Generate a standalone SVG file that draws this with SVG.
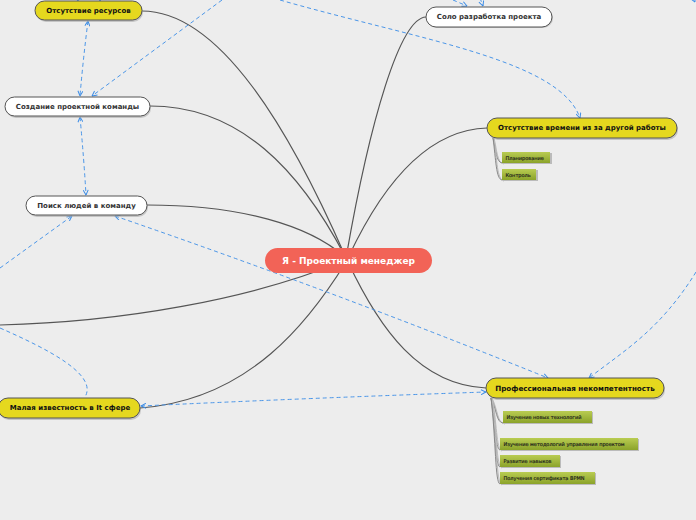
<svg xmlns="http://www.w3.org/2000/svg" width="696" height="520" viewBox="0 0 696 520">
<defs>
<linearGradient id="gr" x1="0" y1="0" x2="0" y2="1"><stop offset="0" stop-color="#b9cc52"/><stop offset="1" stop-color="#8ba32a"/></linearGradient>
<marker id="ar" viewBox="0 0 6 6" refX="5.5" refY="3" markerWidth="6" markerHeight="6" markerUnits="userSpaceOnUse" orient="auto-start-reverse"><path d="M0.5,0.5 L5.5,3 L0.5,5.5" fill="none" stroke="#3d8de6" stroke-width="1"/></marker>
</defs>
<style>
.bg{fill:#ededed}
.sol{fill:none;stroke:#555;stroke-width:1.2}
.sub{fill:none;stroke:#888;stroke-width:1}
.subl{fill:none;stroke:#bbb;stroke-width:1}
.dash{fill:none;stroke:#4b96e8;stroke-width:1;stroke-dasharray:4 3}
.y{fill:#e5d81e;stroke:#555;stroke-width:1}
.w{fill:#fff;stroke:#555;stroke-width:1}
.sh{fill:#aaa;opacity:.6}
.g{fill:url(#gr)}
.gs{fill:#bbb}
.t{font-family:"DejaVu Sans",Verdana,sans-serif;font-weight:bold;font-size:7px;text-anchor:middle;dominant-baseline:central}
.tb{fill:#111}
.tw{fill:#333}
.ts{font-family:"DejaVu Sans",Verdana,sans-serif;font-size:5px;fill:#1a1a1a;stroke:#1a1a1a;stroke-width:0.15;dominant-baseline:central}
</style>
<rect class="bg" width="696" height="520"/>
<g id="connectors">
<path class="sol" d="M142,11 C220,11 290,130 346,258"/>
<path class="sol" d="M150,106 C240,106 300,170 346,258"/>
<path class="sol" d="M147,205 C240,205 310,225 346,258"/>
<path class="sol" d="M0,325 C120,322 250,300 346,260"/>
<path class="sol" d="M140,408 C250,400 310,320 346,262"/>
<path class="sol" d="M426,17 C400,18 370,120 346,258"/>
<path class="sol" d="M487,128 C420,130 375,200 348,258"/>
<path class="sol" d="M486,388 C420,385 380,330 348,262"/>
<path class="subl" d="M494,138 C497,150 497,163 504,164"/>
<path class="sub" d="M493,138 C496,150 496,162 502,163"/>
<path class="subl" d="M494,138 C497,160 497,180 504,181"/>
<path class="sub" d="M493,138 C496,160 496,179 502,180"/>
<path class="subl" d="M492,398 C498,410 497,423 505,424"/>
<path class="sub" d="M491,398 C497,410 496,422 503,423"/>
<path class="subl" d="M492,398 C497,420 496,450 502,451"/>
<path class="sub" d="M491,398 C496,420 495,449 500,450"/>
<path class="subl" d="M492,398 C497,430 496,467 502,468"/>
<path class="sub" d="M491,398 C496,430 495,466 500,467"/>
<path class="subl" d="M492,398 C497,440 496,484 502,485"/>
<path class="sub" d="M491,398 C496,440 495,483 500,484"/>
<path class="dash" d="M88,21 Q83,60 80,96" marker-start="url(#ar)" marker-end="url(#ar)"/>
<path class="dash" d="M222,0 L92,96" marker-end="url(#ar)"/>
<path class="dash" d="M80,117 Q84,160 86,195" marker-start="url(#ar)" marker-end="url(#ar)"/>
<path class="dash" d="M0,268 L72,216" marker-end="url(#ar)"/>
<path class="dash" d="M115,216 Q330,290 548,378" marker-start="url(#ar)" marker-end="url(#ar)"/>
<path class="dash" d="M0,328 C50,350 98,375 85,397"/>
<path class="dash" d="M141,406 Q310,398 486,392" marker-start="url(#ar)" marker-end="url(#ar)"/>
<path class="dash" d="M280,0 C420,40 560,60 580,118" marker-end="url(#ar)"/>
<path class="dash" d="M453,0 L467,6" marker-end="url(#ar)"/>
<path class="dash" d="M480,-2 L483,6" marker-end="url(#ar)"/>
<path class="dash" d="M696,272 C660,330 625,350 589,378" marker-end="url(#ar)"/>
<path class="dash" d="M692,-4 L695,2" marker-end="url(#ar)"/>
<path class="dash" d="M77,-6 L78,1" marker-end="url(#ar)"/>
<path class="dash" d="M100,-6 L100,1" marker-end="url(#ar)"/>
</g>
<g id="center">
<rect x="265" y="248" width="167" height="25" rx="12.5" fill="#f26357"/>
<text x="348.5" y="261" class="t" style="font-size:9px;fill:#fff">Я - Проектный менеджер</text>
</g>
<g id="n-resources">
<rect class="sh" x="36" y="2" width="107" height="20" rx="10"/>
<rect class="y" x="35" y="1" width="107" height="19" rx="9.5"/>
<text x="88.5" y="11" class="t tb">Отсутствие ресурсов</text>
</g>
<g id="n-team">
<rect class="sh" x="6" y="98" width="145" height="20" rx="10"/>
<rect class="w" x="5" y="97" width="145" height="19" rx="9.5"/>
<text x="77.5" y="106.5" class="t tw">Создание проектной команды</text>
</g>
<g id="n-search">
<rect class="sh" x="27" y="197" width="121" height="20" rx="10"/>
<rect class="w" x="26" y="196" width="121" height="19" rx="9.5"/>
<text x="86.5" y="205.5" class="t tw">Поиск людей в команду</text>
</g>
<g id="n-solo">
<rect class="sh" x="427" y="8" width="126" height="20" rx="10"/>
<rect class="w" x="426" y="7" width="126" height="20" rx="10"/>
<text x="489" y="17" class="t tw">Соло разработка проекта</text>
</g>
<g id="n-time">
<rect class="sh" x="488" y="119" width="190" height="21" rx="10"/>
<rect class="y" x="487" y="118" width="190" height="20" rx="10"/>
<text x="582" y="128" class="t tb">Отсутствие времени из за другой работы</text>
</g>
<g id="n-plan">
<rect class="gs" x="503" y="153" width="49" height="11"/>
<rect class="g" x="502" y="152" width="48" height="11"/>
<text x="505.5" y="157.5" class="ts">Планирование</text>
</g>
<g id="n-control">
<rect class="gs" x="503" y="170" width="35" height="11"/>
<rect class="g" x="502" y="169" width="34" height="11"/>
<text x="505.5" y="174.5" class="ts">Контроль</text>
</g>
<g id="n-prof">
<rect class="sh" x="487" y="379" width="178" height="21" rx="10"/>
<rect class="y" x="486" y="378" width="178" height="20" rx="10"/>
<text x="575" y="388" class="t tb" style="font-size:7.2px">Профессиональная некомпетентность</text>
</g>
<g id="n-tech">
<rect class="gs" x="504" y="412" width="89" height="12"/>
<rect class="g" x="503" y="411" width="89" height="12"/>
<text x="506.5" y="417" class="ts">Изучение новых технологий</text>
</g>
<g id="n-method">
<rect class="gs" x="501" y="439" width="138" height="12"/>
<rect class="g" x="500" y="438" width="138" height="12"/>
<text x="503.5" y="444" class="ts">Изучение методологий управления проектом</text>
</g>
<g id="n-skills">
<rect class="gs" x="501" y="456" width="60" height="12"/>
<rect class="g" x="500" y="455" width="60" height="12"/>
<text x="503.5" y="461" class="ts">Развитие навыков</text>
</g>
<g id="n-bpmn">
<rect class="gs" x="501" y="473" width="95" height="12"/>
<rect class="g" x="500" y="472" width="95" height="12"/>
<text x="503.5" y="478" class="ts">Получения сертификата BPMN</text>
</g>
<g id="n-fame">
<rect class="sh" x="-1" y="399" width="142" height="21" rx="10"/>
<rect class="y" x="-2" y="398" width="142" height="20" rx="10"/>
<text x="70" y="408" class="t tb">Малая известность в It сфере</text>
</g>
</svg>
